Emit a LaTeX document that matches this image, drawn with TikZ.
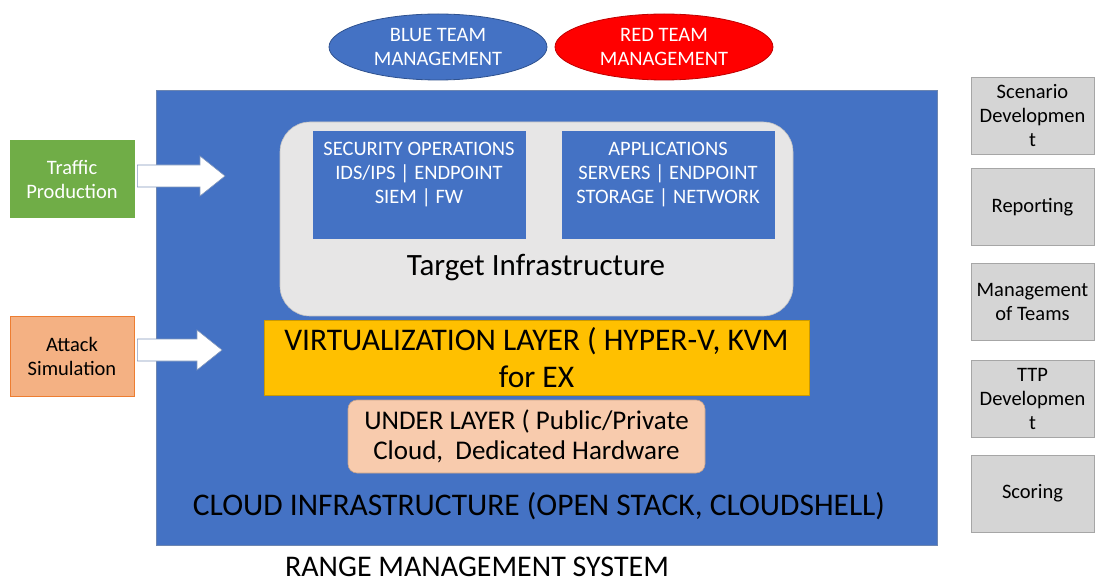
\documentclass[tikz,border=0pt]{standalone}
\usepackage{fontspec}
\setmainfont{Carlito}
\usetikzlibrary{calc,shapes.geometric}
\definecolor{msblue}{HTML}{4472C4}
\definecolor{msblueline}{HTML}{2F528F}
\definecolor{msgreen}{HTML}{70AD47}
\definecolor{mssalmon}{HTML}{F4B183}
\definecolor{msorange}{HTML}{ED7D31}
\definecolor{msyellow}{HTML}{FFC000}
\definecolor{mspeach}{HTML}{F8CBAD}
\definecolor{msgray}{HTML}{D5D5D5}
\definecolor{mslight}{HTML}{E7E6E6}
\begin{document}
\begin{tikzpicture}[
    x=1pt, y=-1pt,
    every node/.style={inner sep=0pt, align=center},
    small/.style={font=\fontsize{20.5}{24}\selectfont},
    big/.style={font=\fontsize{31.5}{37}\selectfont},
    team/.style={ellipse, draw=msblueline, line width=0.8pt, minimum width=218pt, minimum height=66pt, text=white, small},
    feeder/.style={minimum width=124pt, minimum height=77pt, line width=0.8pt, small},
    toolbox/.style={rectangle, draw=msblue, fill=msblue, minimum width=212pt, minimum height=107pt, text=white, small},
    sidebox/.style={rectangle, draw=gray!70, fill=msgray, minimum width=123pt, minimum height=77pt, small},
    blockarr/.style={draw=msblueline!60, fill=white, line width=0.6pt, line join=miter}
]
\useasboundingbox (0,0) rectangle (1095,585);

% cloud and range system
\node[rectangle, fill=msblue, draw=msblueline!70, minimum width=781pt, minimum height=455pt] (cloud) at (546.5,317.5) {};
\node[big] (cloudlbl) at (539,506) {CLOUD INFRASTRUCTURE (OPEN STACK, CLOUDSHELL)};
\node[font=\fontsize{30}{36}\selectfont, align=none, text depth=0pt, anchor=base] (rms) at (477,576) {RANGE MANAGEMENT SYSTEM};

% teams
\node[team, fill=msblue] (blue) at (438,47) {BLUE TEAM\\MANAGEMENT};
\node[team, fill=red, draw=red!75!black] (red) at (664,47) {RED TEAM\\MANAGEMENT};

% target infrastructure
\node[rectangle, rounded corners=30pt, fill=mslight, draw=mslight!85!black, line width=0.6pt, minimum width=513pt, minimum height=194pt] (target) at (536.5,219) {};
\node[toolbox] (secops) at (419,184.5) {SECURITY OPERATIONS\\IDS/IPS | ENDPOINT\\SIEM | FW\\[-1pt]};
\node[toolbox] (apps) at (668,184.5) {APPLICATIONS\\SERVERS | ENDPOINT\\STORAGE | NETWORK\\[-1pt]};
\node[font=\fontsize{31}{36}\selectfont] (targetlbl) at (536,268) {Target Infrastructure};

% layers
\node[rectangle, fill=msyellow, draw=msyellow!80!black, line width=0.6pt, minimum width=545pt, minimum height=75pt, big] (virt) at (536.5,357.5) {VIRTUALIZATION LAYER ( HYPER-V, KVM\\for EX};
\node[rectangle, rounded corners=9pt, fill=mspeach, draw=mspeach!80!black, line width=0.6pt, minimum width=357pt, minimum height=73pt, font=\fontsize{27}{30}\selectfont] (under) at (526.5,436.5) {UNDER LAYER ( Public/Private\\Cloud,\ \ Dedicated Hardware};

% feeders
\node[feeder, fill=msgreen, draw=msgreen, text=white] (traffic) at (72,179) {Traffic\\Production};
\node[feeder, fill=mssalmon, draw=msorange, minimum height=80pt] (attack) at (72,356) {Attack\\Simulation};
\coordinate (tipA) at (225,176);
\coordinate (tipB) at (222,350);
\foreach \src/\tip in {traffic/tipA, attack/tipB} {
    \draw[blockarr] ($(\src.east |- \tip)+(3,-11)$) -- ($(\tip)+(-25,-11)$) -- ($(\tip)+(-25,-20)$) -- (\tip)
        -- ($(\tip)+(-25,20)$) -- ($(\tip)+(-25,11)$) -- ($(\src.east |- \tip)+(3,11)$) -- cycle;
}

% side functions
\node[sidebox] (scen) at (1032.5,115.5) {Scenario\\Developmen\\t};
\node[sidebox] (report) at (1032.5,207) {Reporting};
\node[sidebox] (mgmt) at (1032.5,301.5) {Management\\of Teams};
\node[sidebox] (ttp) at (1032.5,398.5) {TTP\\Developmen\\t};
\node[sidebox] (score) at (1032.5,493.5) {Scoring};
\end{tikzpicture}
\end{document}
